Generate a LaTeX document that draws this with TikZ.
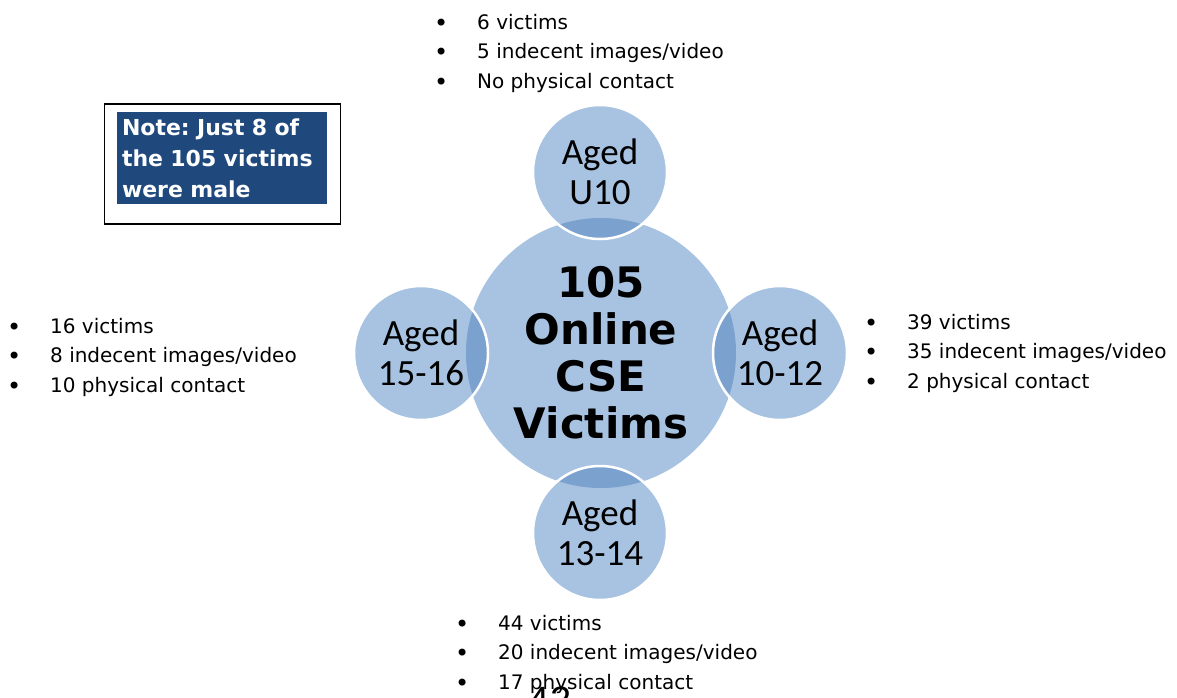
\documentclass[tikz,border=0pt]{standalone}
\usepackage{fontspec}
\setmainfont{DejaVu Sans}
\newfontfamily\agefont{Carlito}
\newfontfamily\pagefont{Liberation Sans}
\usetikzlibrary{positioning}
\frenchspacing

\definecolor{discblue}{HTML}{A7C3E1}
\definecolor{lensblue}{HTML}{7BA1CE}
\definecolor{noteblue}{HTML}{1F497D}
\newcommand{\fact}[1]{\makebox[42pt][l]{\hspace{-1pt}\raisebox{-2pt}{\fontsize{24}{24}\selectfont\textbullet}}#1}

\begin{document}
\begin{tikzpicture}[x=1pt, y=-1pt,
          hub/.style={circle, fill=discblue, minimum size=270pt, inner sep=0pt, align=center,
                      font=\fontsize{42}{47}\selectfont\bfseries},
          spoke/.style={circle, fill=discblue, minimum size=134pt, inner sep=0pt, align=center,
                        font=\agefont\fontsize{37}{40}\selectfont},
          rim/.style={draw=white, line width=2.5pt},
          facts/.style={anchor=west, inner sep=0pt, align=left,
                        font=\fontsize{20}{29.5}\selectfont},
          notebox/.style={fill=noteblue, text=white, minimum width=210pt, minimum height=92pt,
                          inner xsep=5pt, inner ysep=0pt, text width=200pt, align=left,
                          font=\fontsize{22}{31}\selectfont\bfseries},
          frame/.style={draw=black, line width=1.5pt, minimum width=236pt, minimum height=120pt,
                        inner sep=0pt},
          pagenum/.style={inner sep=0pt, font=\pagefont\fontsize{38}{40}\selectfont}]

  \useasboundingbox (0,0) rectangle (1177,697);

  \node[frame] (frame) at (222.5,164) {};
  \node[notebox] (note) at (222,158) {Note: Just 8 of\\the 105 victims\\were male};

  \node[hub] (hub) at (601,353) {105\\Online\\CSE\\Victims};
  \node[spoke] (u10) at (600,172) {Aged\\U10};
  \node[spoke] (a1516) at (421,353) {Aged\\15-16};
  \node[spoke] (a1012) at (780,353) {Aged\\10-12};
  \node[spoke] (a1314) at (600,533) {Aged\\13-14};

  \foreach \s in {u10, a1516, a1012, a1314} {
    \begin{scope}
      \clip (hub.center) circle (135pt);
      \fill[lensblue] (\s.center) circle (67pt);
    \end{scope}
    \draw[rim] (\s.center) circle (67pt);
  }

  \node[facts] (u10facts) at (435,53) {\fact{6 victims}\\\fact{5 indecent images/video}\\\fact{No physical contact}};
  \node[facts] (a1516facts) at (8,357) {\fact{16 victims}\\\fact{8 indecent images/video}\\\fact{10 physical contact}};
  \node[facts] (a1012facts) at (865,353) {\fact{39 victims}\\\fact{35 indecent images/video}\\\fact{2 physical contact}};
  \node[facts] (a1314facts) at (456,654) {\fact{44 victims}\\\fact{20 indecent images/video}\\\fact{17 physical contact}};

  \node[pagenum] (pageno) at (550,700) {42};

\end{tikzpicture}
\end{document}
